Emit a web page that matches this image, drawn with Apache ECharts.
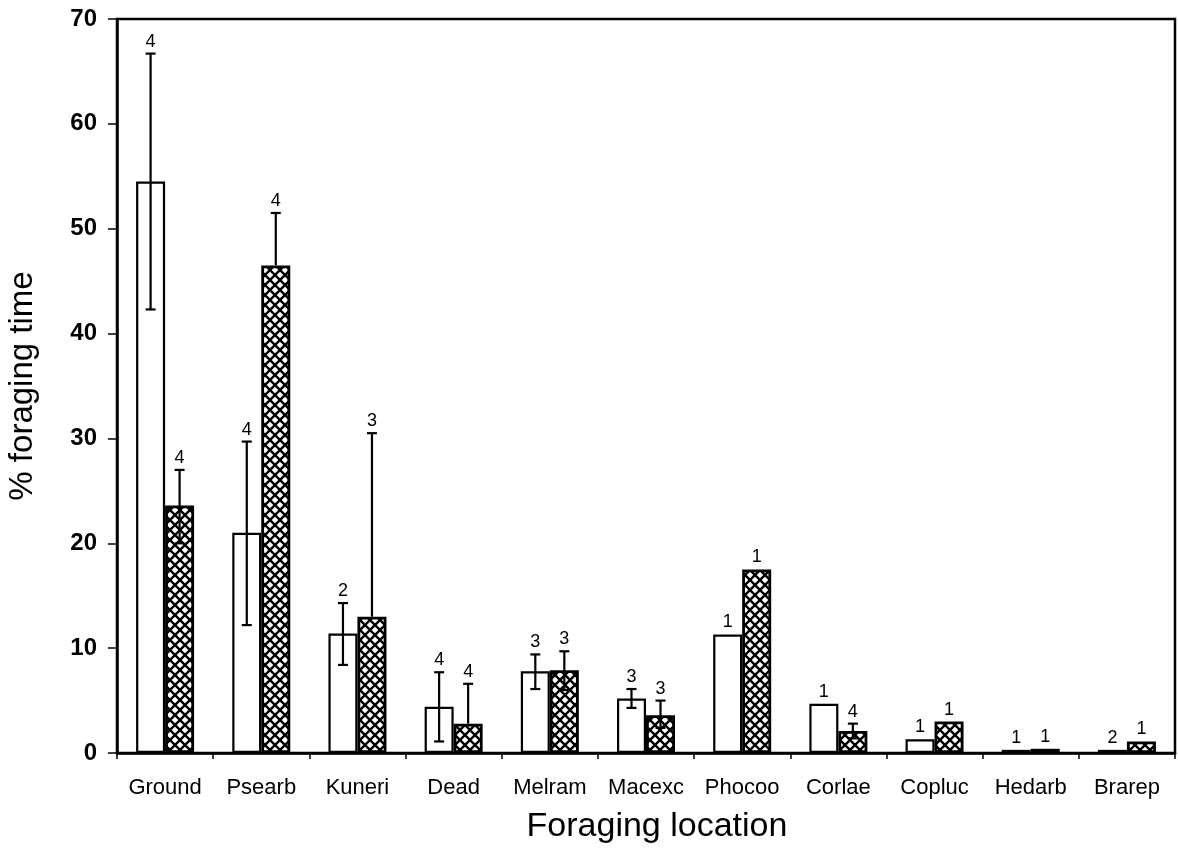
<!DOCTYPE html>
<html>
<head>
<meta charset="utf-8">
<script src="https://cdn.jsdelivr.net/npm/echarts@6/dist/echarts.min.js"></script>
<style>
  html, body { margin: 0; padding: 0; background: #fff; }
  #chart { width: 1178px; height: 850px; }
</style>
</head>
<body>
<div id="chart"></div>
<script>
// Foraging locations (x categories)
const categories = ['Ground', 'Psearb', 'Kuneri', 'Dead', 'Melram', 'Macexc', 'Phocoo', 'Corlae', 'Copluc', 'Hedarb', 'Brarep'];

// Open bars: mean % foraging time, error bar ends and sample sizes
const openValues  = [54.5, 21.0, 11.4, 4.4, 7.8, 5.2, 11.3, 4.7, 1.3, 0.3, 0.3];
const openErrLow  = [42.3, 12.2, 8.4, 1.1, 6.1, 4.3, null, null, null, null, null];
const openErrHigh = [66.7, 29.7, 14.3, 7.7, 9.4, 6.1, null, null, null, null, null];
const openN       = [4, 4, 2, 4, 3, 3, 1, 1, 1, 1, 2];

// Cross-hatched bars
const hatchValues  = [23.6, 46.5, 13.0, 2.8, 7.9, 3.6, 17.5, 2.1, 3.0, 0.4, 1.1];
const hatchErrLow  = [20.0, null, null, null, 6.0, 2.4, null, 1.4, null, null, null];
const hatchErrHigh = [27.0, 51.5, 30.5, 6.6, 9.7, 5.0, null, 2.8, null, null, null];
const hatchN       = [4, 4, 3, 4, 3, 3, 1, 4, 1, 1, 1];

// Y axis ticks
const yMin = 0, yMax = 70, yStep = 10;

const BAR_W = 29;
const FONT = "'Liberation Sans', Arial, sans-serif";

// Cross-hatch fill tile
function makeHatch() {
  const s = 10;
  const c = document.createElement('canvas');
  c.width = s; c.height = s;
  const g = c.getContext('2d');
  g.fillStyle = '#fff';
  g.fillRect(0, 0, s, s);
  g.strokeStyle = '#000';
  g.lineWidth = 2.4;
  g.beginPath();
  g.moveTo(-1, -1); g.lineTo(s + 1, s + 1);
  g.moveTo(s + 1, -1); g.lineTo(-1, s + 1);
  g.stroke();
  return c;
}

const errData = [];
categories.forEach((c, i) => {
  errData.push([i, openErrLow[i], openErrHigh[i], openN[i], -1, openValues[i]]);
  errData.push([i, hatchErrLow[i], hatchErrHigh[i], hatchN[i], 1, hatchValues[i]]);
});

function renderErr(params, api) {
  const i = api.value(0);
  const low = api.value(1);
  const high = api.value(2);
  const n = api.value(3);
  const side = api.value(4);
  const v = api.value(5);
  const dx = side * BAR_W / 2;
  const children = [];
  const base = api.coord([i, v]);
  const x = base[0] + dx;
  let topY = base[1];
  const hasHigh = high !== null && !isNaN(high);
  const hasLow = low !== null && !isNaN(low);
  const lineStyle = { stroke: '#000', lineWidth: 2.2 };
  const cap = 5;
  if (hasHigh) {
    const yh = api.coord([i, high])[1];
    const yl = hasLow ? api.coord([i, low])[1] : base[1];
    children.push({ type: 'line', shape: { x1: x, y1: yh, x2: x, y2: yl }, style: lineStyle });
    children.push({ type: 'line', shape: { x1: x - cap, y1: yh, x2: x + cap, y2: yh }, style: lineStyle });
    if (hasLow) {
      children.push({ type: 'line', shape: { x1: x - cap, y1: yl, x2: x + cap, y2: yl }, style: lineStyle });
    }
    topY = yh;
  }
  children.push({
    type: 'text',
    style: {
      x: x, y: topY - 3, text: String(n),
      textAlign: 'center', textVerticalAlign: 'bottom',
      font: '18px ' + FONT, fill: '#000'
    }
  });
  return { type: 'group', children: children };
}

const chart = echarts.init(document.getElementById('chart'), null, { renderer: 'canvas' });
chart.setOption({
  animation: false,
  backgroundColor: '#fff',
  grid: {
    left: 117, right: 3, top: 19, bottom: 97,
    containLabel: false,
    outerBoundsMode: 'none',
    show: true, borderColor: '#000', borderWidth: 2.5, backgroundColor: 'transparent'
  },
  xAxis: {
    type: 'category',
    data: categories,
    axisLine: { lineStyle: { color: '#000', width: 2.5 } },
    axisTick: { show: true, interval: 0, length: 6, lineStyle: { color: '#000', width: 1.5 } },
    axisLabel: { color: '#000', fontFamily: FONT, fontSize: 22, margin: 24, interval: 0, hideOverlap: false },
    name: 'Foraging location',
    nameLocation: 'middle',
    nameGap: 57,
    nameTextStyle: { color: '#000', fontFamily: FONT, fontSize: 34, padding: [0, 0, 0, 22] }
  },
  yAxis: {
    type: 'value',
    min: yMin, max: yMax, interval: yStep,
    axisLine: { show: true, lineStyle: { color: '#000', width: 2.5 } },
    axisTick: { show: true, length: 9, lineStyle: { color: '#000', width: 1.5 } },
    splitLine: { show: false },
    axisLabel: { color: '#000', fontFamily: FONT, fontSize: 24, fontWeight: 'bold', margin: 20 },
    name: '% foraging time',
    nameLocation: 'middle',
    nameGap: 78,
    nameTextStyle: { color: '#000', fontFamily: FONT, fontSize: 33 }
  },
  series: [
    {
      type: 'bar',
      data: openValues,
      barWidth: BAR_W,
      barGap: '0%',
      itemStyle: { color: '#fff', borderColor: '#000', borderWidth: 2.2 }
    },
    {
      type: 'bar',
      data: hatchValues,
      barWidth: BAR_W,
      barGap: '0%',
      itemStyle: { color: { image: makeHatch(), repeat: 'repeat' }, borderColor: '#000', borderWidth: 2.8 }
    },
    {
      type: 'custom',
      renderItem: renderErr,
      data: errData,
      z: 5,
      encode: { x: 0, y: [1, 2, 5] }
    }
  ]
});
</script>
</body>
</html>
